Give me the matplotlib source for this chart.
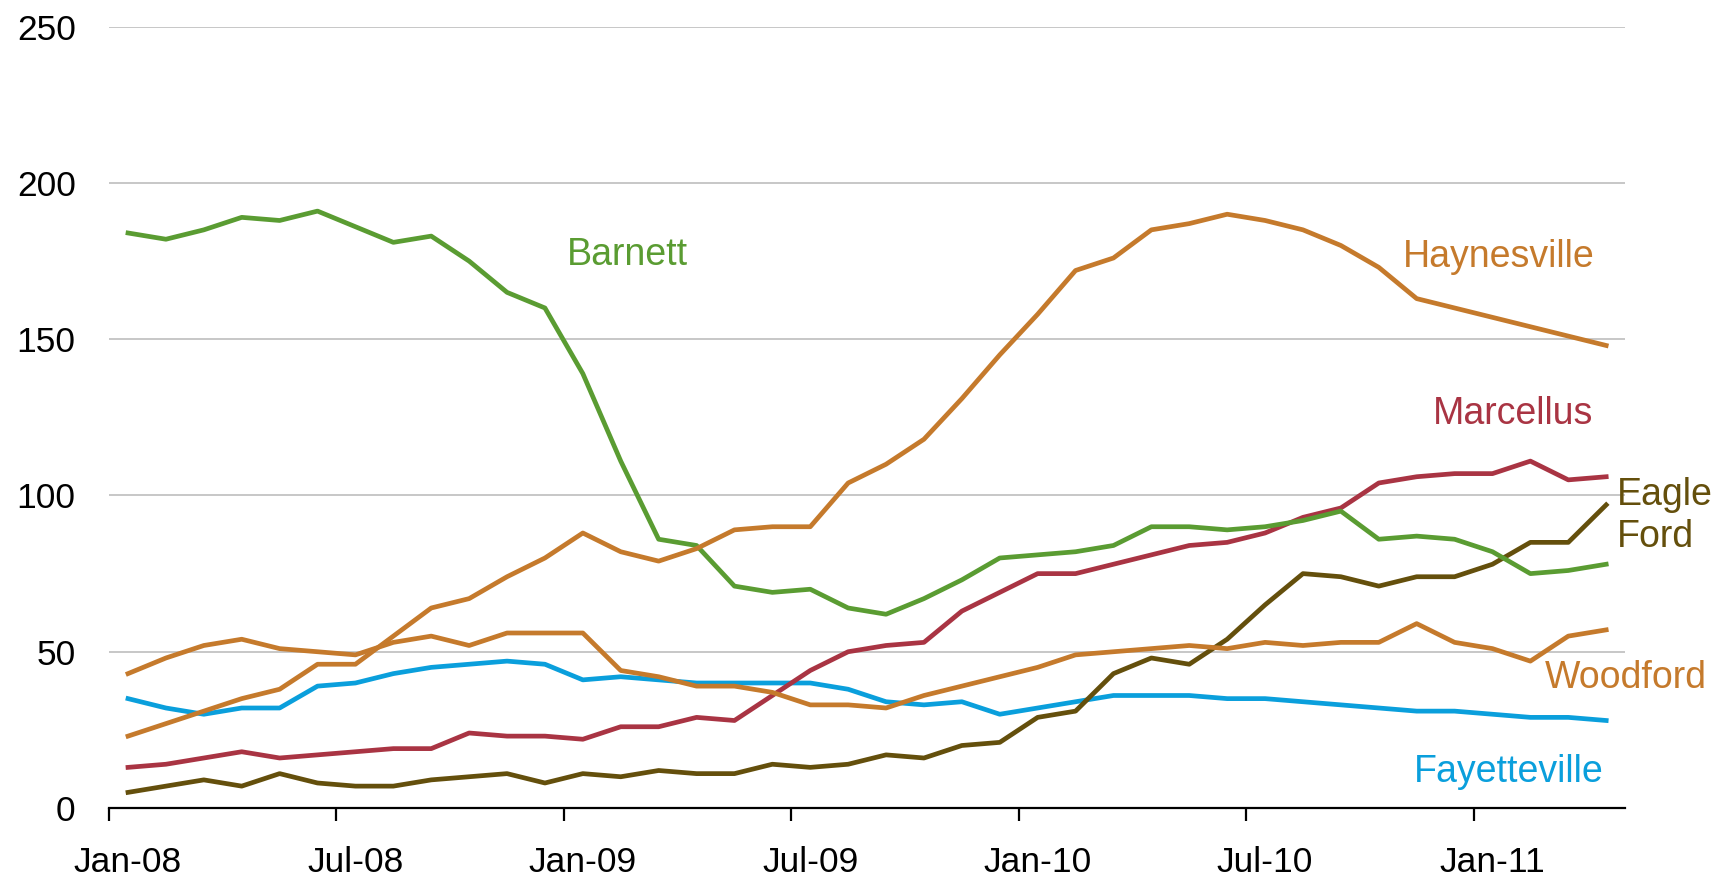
import matplotlib.pyplot as plt
import numpy as np

plt.rcParams['font.family'] = ['Liberation Sans', 'DejaVu Sans']

# monthly, Jan-08 .. Apr-11
months = ['Jan-08', 'Feb-08', 'Mar-08', 'Apr-08', 'May-08', 'Jun-08', 'Jul-08', 'Aug-08', 'Sep-08', 'Oct-08', 'Nov-08', 'Dec-08',
          'Jan-09', 'Feb-09', 'Mar-09', 'Apr-09', 'May-09', 'Jun-09', 'Jul-09', 'Aug-09', 'Sep-09', 'Oct-09', 'Nov-09', 'Dec-09',
          'Jan-10', 'Feb-10', 'Mar-10', 'Apr-10', 'May-10', 'Jun-10', 'Jul-10', 'Aug-10', 'Sep-10', 'Oct-10', 'Nov-10', 'Dec-10',
          'Jan-11', 'Feb-11', 'Mar-11', 'Apr-11']

barnett = [184, 182, 185, 189, 188, 191, 186, 181, 183, 175, 165, 160,
           139, 111, 86, 84, 71, 69, 70, 64, 62, 67, 73, 80,
           81, 82, 84, 90, 90, 89, 90, 92, 95, 86, 87, 86,
           82, 75, 76, 78]
haynesville = [23, 27, 31, 35, 38, 46, 46, 55, 64, 67, 74, 80,
               88, 82, 79, 83, 89, 90, 90, 104, 110, 118, 131, 145,
               158, 172, 176, 185, 187, 190, 188, 185, 180, 173, 163, 160,
               157, 154, 151, 148]
woodford = [43, 48, 52, 54, 51, 50, 49, 53, 55, 52, 56, 56,
            56, 44, 42, 39, 39, 37, 33, 33, 32, 36, 39, 42,
            45, 49, 50, 51, 52, 51, 53, 52, 53, 53, 59, 53,
            51, 47, 55, 57]
marcellus = [13, 14, 16, 18, 16, 17, 18, 19, 19, 24, 23, 23,
             22, 26, 26, 29, 28, 36, 44, 50, 52, 53, 63, 69,
             75, 75, 78, 81, 84, 85, 88, 93, 96, 104, 106, 107,
             107, 111, 105, 106]
fayetteville = [35, 32, 30, 32, 32, 39, 40, 43, 45, 46, 47, 46,
                41, 42, 41, 40, 40, 40, 40, 38, 34, 33, 34, 30,
                32, 34, 36, 36, 36, 35, 35, 34, 33, 32, 31, 31,
                30, 29, 29, 28]
eagle_ford = [5, 7, 9, 7, 11, 8, 7, 7, 9, 10, 11, 8,
              11, 10, 12, 11, 11, 14, 13, 14, 17, 16, 20, 21,
              29, 31, 43, 48, 46, 54, 65, 75, 74, 71, 74, 74,
              78, 85, 85, 97]

green = '#5A9C32'
orange = '#C57A2C'
red = '#A93443'
olive = '#644F0C'
blue = '#0A9FDC'

fig = plt.figure(figsize=(17.15, 8.82), dpi=100)
ax = fig.add_axes([0.0636, 0.0839, 0.884, 0.8858])

x = np.arange(len(months))
lw = 3.4
ax.plot(x, fayetteville, color=blue, lw=lw)
ax.plot(x, eagle_ford, color=olive, lw=lw)
ax.plot(x, marcellus, color=red, lw=lw)
ax.plot(x, woodford, color=orange, lw=lw)
ax.plot(x, barnett, color=green, lw=lw)
ax.plot(x, haynesville, color=orange, lw=lw)

ax.set_xlim(-0.5, len(months) - 0.5)
ax.set_ylim(0, 250)
ax.set_yticks([0, 50, 100, 150, 200, 250])
ax.grid(axis='y', color='#BEBEBE', lw=1.2)
ax.set_axisbelow(True)

for s in ['top', 'right', 'left']:
    ax.spines[s].set_visible(False)
ax.spines['bottom'].set_linewidth(1.6)

# tick marks between categories, labels under the month
ax.set_xticks(np.arange(-0.5, len(months), 6))
ax.set_xticklabels([])
ax.set_xticks(x[::6], minor=True)
ax.set_xticklabels(months[::6], minor=True)
ax.tick_params(axis='x', which='major', length=9, width=1.6, direction='out')
ax.tick_params(axis='x', which='minor', length=0, pad=27, labelsize=25.5)
ax.tick_params(axis='y', length=0, pad=24, labelsize=25.5)

fs = 27
ax.text(11.57, 173.8, 'Barnett', color=green, fontsize=fs)
ax.text(33.64, 173.1, 'Haynesville', color=orange, fontsize=fs)
ax.text(34.43, 122.9, 'Marcellus', color=red, fontsize=fs)
ax.text(39.28, 83.5, 'Eagle\nFord', color=olive, fontsize=fs, linespacing=1.2, clip_on=False)
ax.text(37.38, 38.4, 'Woodford', color=orange, fontsize=fs, clip_on=False)
ax.text(33.93, 8.3, 'Fayetteville', color=blue, fontsize=fs)

fig.savefig('out.png', dpi=100)
